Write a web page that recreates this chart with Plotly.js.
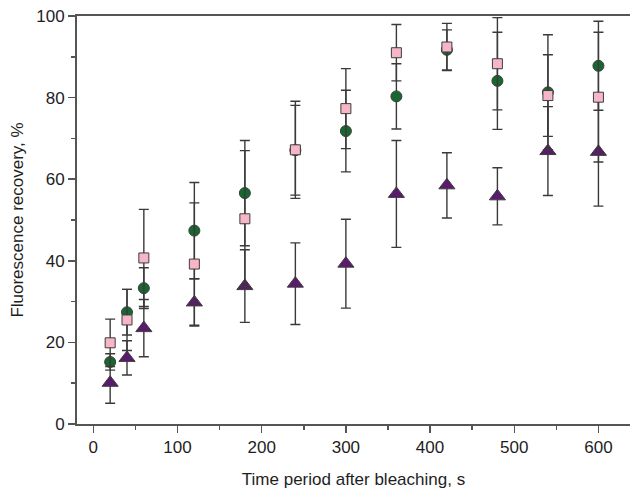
<!DOCTYPE html>
<html>
<head>
<meta charset="utf-8">
<script src="https://cdn.plot.ly/plotly-3.0.1.min.js"></script>
<style>html,body{margin:0;padding:0;background:#fff;}</style>
</head>
<body>
<div id="chart" style="width:630px;height:489px;"></div>
<script>
const timeS = [20, 40, 60, 120, 180, 240, 300, 360, 420, 480, 540, 600];

const triangleVals = [10.1, 16.2, 23.5, 29.8, 33.8, 34.4, 39.3, 56.4, 58.5, 55.8, 66.9, 66.7];
const triangleErr  = [5.0, 4.2, 7.0, 5.8, 8.9, 10.0, 10.9, 13.1, 8.0, 7.0, 10.9, 13.3];

const circleVals = [15.2, 27.4, 33.3, 47.4, 56.6, 67.1, 71.8, 80.3, 91.7, 84.1, 81.3, 87.8];
const circleErr  = [2.0, 5.6, 5.0, 11.8, 12.9, 11.0, 10.0, 8.0, 4.9, 11.9, 14.1, 10.9];

const squareVals = [19.9, 25.5, 40.7, 39.2, 50.3, 67.2, 77.3, 91.0, 92.4, 88.3, 80.5, 80.1];
const squareErr  = [5.8, 7.5, 11.9, 15.0, 16.7, 11.9, 9.8, 6.9, 5.8, 11.3, 10.0, 15.9];

const errStyle = {color: '#3a3a3a', thickness: 1.4, width: 5};

function series(vals, errs, symbol, fill, size) {
  return {
    type: 'scatter', mode: 'markers',
    x: timeS, y: vals,
    error_y: Object.assign({type: 'data', array: errs, visible: true}, errStyle),
    marker: {symbol: symbol, color: fill, size: size, line: {color: '#3d3d3d', width: 1}},
    showlegend: false, cliponaxis: false
  };
}

const data = [
  series(triangleVals, triangleErr, 'triangle-up', '#5b1b6c', 14),
  series(circleVals, circleErr, 'circle', '#17672f', 11),
  series(squareVals, squareErr, 'square', '#f6b6c8', 10)
];

const axisFont = {family: 'Liberation Sans, Arial, sans-serif', size: 17, color: '#1e1e1e'};

const layout = {
  width: 630, height: 489,
  margin: {l: 77, r: 0, t: 16, b: 65},
  paper_bgcolor: '#fff', plot_bgcolor: '#fff',
  font: axisFont,
  xaxis: {
    range: [-19.4, 637.5], showgrid: false, zeroline: false,
    showline: true, linecolor: '#555', linewidth: 2, mirror: true,
    ticks: 'outside', ticklen: 7, tickwidth: 1.5, tickcolor: '#555',
    tickvals: [0, 100, 200, 300, 400, 500, 600],
    minor: {dtick: 50, tick0: 0, ticks: 'outside', ticklen: 4, tickwidth: 1.5, tickcolor: '#555'},
    tickfont: axisFont,
    title: {text: 'Time period after bleaching, s', font: axisFont, standoff: 20}
  },
  yaxis: {
    range: [0, 100], showgrid: false, zeroline: false,
    showline: true, linecolor: '#555', linewidth: 2,
    ticks: 'outside', ticklen: 7, tickwidth: 1.5, tickcolor: '#555',
    tickvals: [0, 20, 40, 60, 80, 100],
    minor: {dtick: 10, tick0: 0, ticks: 'outside', ticklen: 4, tickwidth: 1.5, tickcolor: '#555'},
    tickfont: axisFont,
    title: {text: 'Fluorescence recovery, %', font: axisFont, standoff: 8}
  }
};

Plotly.newPlot('chart', data, layout, {staticPlot: true, displayModeBar: false});
</script>
</body>
</html>
